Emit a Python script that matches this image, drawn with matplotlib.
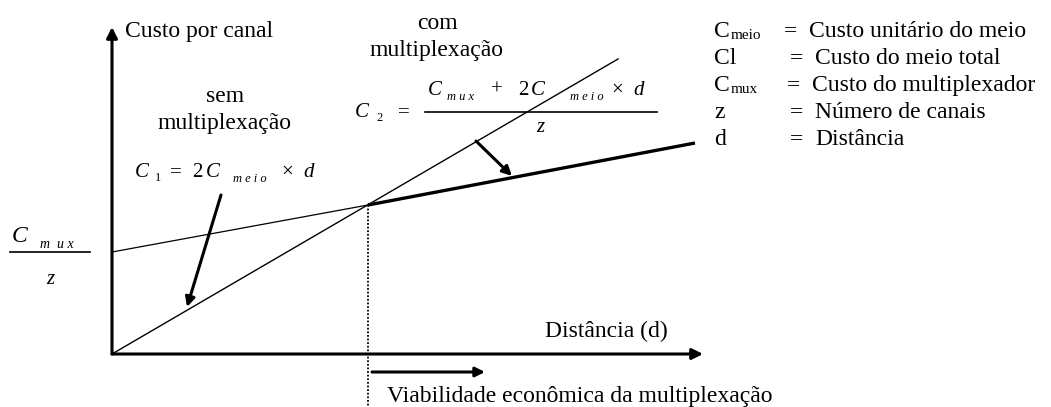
import matplotlib
matplotlib.use("Agg")
import matplotlib.pyplot as plt

# diagram coordinates (pixels, y grows downwards)
origin = (112, 354)
y_axis_top = 27
x_axis_end = 703

sem_mux_x = [112, 618]          # C1 = 2 Cmeio * d
sem_mux_y = [354, 59]
com_mux_x = [112, 368, 695]     # C2 = (Cmux + 2 Cmeio * d) / z
com_mux_y = [252, 205, 143]
breakeven_x = 368

legend_keys = ["C", "Cl", "C", "z", "d"]
legend_subs = ["meio", "", "mux", "", ""]
legend_desc = ["Custo unitário do meio", "Custo do meio total",
               "Custo do multiplexador", "Número de canais", "Distância"]
legend_eq_x = [784, 790, 787, 790, 790]
legend_txt_x = [809, 815, 812, 815, 815]
legend_base = [37, 64, 91, 118, 145]

SERIF = "Liberation Serif"
FS = 17

fig = plt.figure(figsize=(10.51, 4.07), dpi=100)
ax = fig.add_axes([0, 0, 1, 1])
ax.set_xlim(0, 1051)
ax.set_ylim(407, 0)
ax.axis("off")


def arrow(x0, y0, x1, y1, lw=2.2, ms=16):
    ax.annotate("", xy=(x1, y1), xytext=(x0, y0),
                arrowprops=dict(arrowstyle="-|>", lw=lw, color="black",
                                mutation_scale=ms, shrinkA=0, shrinkB=0))


def txt(x, y, s, size=FS, style="normal", ha="left"):
    ax.text(x, y, s, fontsize=size, family=SERIF, style=style,
            ha=ha, va="baseline", color="black")


# axes
arrow(origin[0], origin[1], origin[0], y_axis_top)
arrow(origin[0], origin[1], x_axis_end, origin[1])

# cost lines
ax.plot(sem_mux_x, sem_mux_y, color="black", lw=1.0)
ax.plot(com_mux_x[:2], com_mux_y[:2], color="black", lw=0.9)
ax.plot(com_mux_x[1:], com_mux_y[1:], color="black", lw=2.4,
        solid_capstyle="butt")

# break-even dotted line
ax.plot([breakeven_x, breakeven_x], [com_mux_y[1], 407], color="black",
        lw=1.3, linestyle=(0, (1, 1)))

# pointer arrows
arrow(221, 195, 187, 307, lw=2.2, ms=14)
arrow(476, 141, 512, 176, lw=2.2, ms=14)
arrow(372, 372, 485, 372, lw=2.2, ms=14)

# plain labels
txt(125, 37, "Custo por canal")
txt(225, 102, "sem", ha="center")
txt(225, 129, "multiplexação", ha="center")
txt(437, 29, "com", ha="center")
txt(437, 56, "multiplexação", ha="center")
txt(545, 337, "Distância (d)")
txt(387, 402, "Viabilidade econômica da multiplexação")

# C1 formula
IS = 15
SS = 9
txt(135, 177, "C", IS, "italic")
txt(155, 181, "1", SS)
txt(170, 177, "=", IS)
txt(192, 177, "2", IS)
txt(206, 177, "C", IS, "italic")
txt(233, 182, "m e i o", SS, "italic")
txt(281, 177, "×", IS)
txt(303, 177, "d", IS, "italic")

# C2 formula
txt(355, 117, "C", IS, "italic")
txt(376, 121, "2", SS)
txt(398, 117, "=", IS)
txt(428, 95, "C", IS, "italic")
txt(447, 100, "m u x", SS, "italic")
txt(491, 95, "+", IS)
txt(518, 95, "2", IS)
txt(531, 95, "C", IS, "italic")
txt(570, 100, "m e i o", SS, "italic")
txt(611, 95, "×", IS)
txt(633, 95, "d", IS, "italic")
ax.plot([425, 657], [112, 112], color="black", lw=1.2)
txt(540, 132, "z", IS, "italic", ha="center")

# Cmux / z on the y axis
txt(12, 242, "C", IS + 2, "italic")
txt(40, 248, "m  u x", SS + 1, "italic")
ax.plot([10, 90], [252, 252], color="black", lw=1.2)
txt(50, 284, "z", IS, "italic", ha="center")

# legend of symbols
for key, sub, desc, xe, xt, yb in zip(legend_keys, legend_subs, legend_desc,
                                      legend_eq_x, legend_txt_x, legend_base):
    txt(714, yb, key)
    if sub:
        txt(731, yb + 2, sub, 11)
    txt(xe, yb, "=")
    txt(xt, yb, desc)

fig.savefig("out.png", dpi=100)
